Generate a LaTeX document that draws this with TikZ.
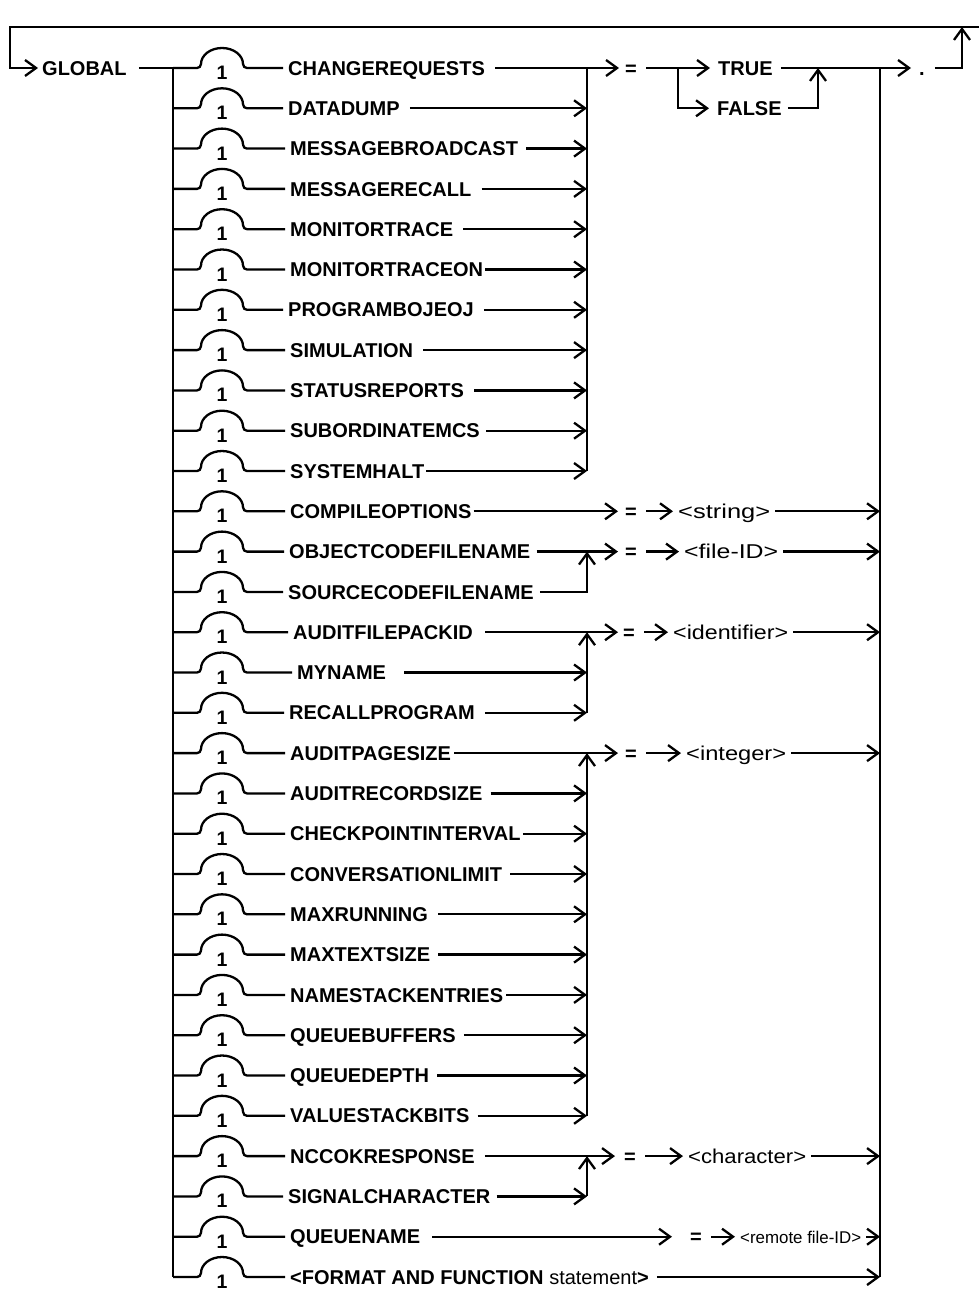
\documentclass[tikz,border=0pt]{standalone}
\usepackage{fontspec}
\setmainfont{Liberation Sans}
\usetikzlibrary{arrows.meta}
\begin{document}
\begin{tikzpicture}[x=1pt,y=-1pt,
  ln/.style={line width=2.3pt,line join=miter},
  arr/.style={ln,-{Straight Barb[length=11pt,width=16pt,line width=2.3pt]}},
  lbl/.style={inner sep=0pt,anchor=west,text height=14.3pt,text depth=0pt,font=\fontsize{20}{24}\selectfont\bfseries},
  eqs/.style={lbl,anchor=center},
  digit/.style={inner sep=0pt,text height=14pt,text depth=0pt,font=\fontsize{19.5}{22}\selectfont\bfseries}]
\useasboundingbox (0,0) rectangle (979,1292);
% ---- rows: label, "1" arch, junction coordinates
\foreach \i/\yy/\lab/\sx/\g in {
 1/68/CHANGEREQUESTS/288/10,
 2/108.3/DATADUMP/288/10,
 3/148.6/MESSAGEBROADCAST/290/8,
 4/188.9/MESSAGERECALL/290/10,
 5/229.2/MONITORTRACE/290/10,
 6/269.5/MONITORTRACEON/290/2,
 7/309.8/PROGRAMBOJEOJ/288/10,
 8/350.1/SIMULATION/290/10,
 9/390.4/STATUSREPORTS/290/10,
 10/430.7/SUBORDINATEMCS/290/6,
 11/471/SYSTEMHALT/290/2,
 12/511.3/COMPILEOPTIONS/290/2,
 13/551.6/OBJECTCODEFILENAME/289/6,
 14/591.9/SOURCECODEFILENAME/288/6,
 15/632.2/AUDITFILEPACKID/293/12,
 16/672.5/MYNAME/297/18,
 17/712.8/RECALLPROGRAM/289/10,
 18/753.1/AUDITPAGESIZE/290/3,
 19/793.4/AUDITRECORDSIZE/290/8,
 20/833.7/CHECKPOINTINTERVAL/290/2,
 21/874/CONVERSATIONLIMIT/290/8,
 22/914.3/MAXRUNNING/290/10,
 23/954.6/MAXTEXTSIZE/290/8,
 24/994.9/NAMESTACKENTRIES/290/3,
 25/1035.2/QUEUEBUFFERS/290/8,
 26/1075.5/QUEUEDEPTH/290/8,
 27/1115.8/VALUESTACKBITS/290/8,
 28/1156.1/NCCOKRESPONSE/290/10,
 29/1196.4/SIGNALCHARACTER/288/6,
 30/1236.7/QUEUENAME/290/12,
 31/1277/{<FORMAT AND FUNCTION {\mdseries statement}>}/290/8}
{
  \node[lbl] (r\i) at (\sx,\yy) {\lab};
  \node[digit] (n\i) at (222,\yy+4.5) {1};
  \coordinate (j\i) at (173,\yy);
  \coordinate (v\i) at (587,\yy);
  \coordinate (e\i) at (880,\yy);
  \coordinate (t\i) at ([xshift=\g pt]r\i.east);
  \draw[ln] (j\i) -- (197,\yy) .. controls (199.5,\yy) and (200.5,\yy-1.5) .. (201,\yy-4)
     arc[start angle=180,end angle=360,x radius=21,y radius=16]
     .. controls (243.5,\yy-1.5) and (244.5,\yy) .. (247,\yy) -- ([xshift=-5pt]r\i.west);
}
% ---- entry and loop back
\node[lbl] (glob) at (42,68) {GLOBAL};
\coordinate (tl) at (10,27);
\coordinate (tr) at (979,27);
\draw[arr] (tr) -- (tl) |- ([xshift=-4pt]glob.west);
\draw[ln] ([xshift=12pt]glob.east) -- (j1);
\draw[ln] (j1) -- (j31);
\draw[ln] (e1) -- (e31);
% ---- group 1 (rows 1-11)
\foreach \i in {2,...,11} \draw[arr] (t\i) -- (v\i);
\draw[ln] (v1) -- (v11);
\coordinate (k1) at (619,68);
\draw[arr] (t1) -- (k1);
\node[eqs] (eq1) at (631,68) {=};
\node[lbl] (tru) at (718,68) {TRUE};
\node[lbl] (fls) at (717,108.3) {FALSE};
\coordinate (b1) at (678,68);
\draw[arr] ([xshift=9pt]eq1.east) -- ([xshift=-8pt]tru.west);
\draw[arr] (b1) |- ([xshift=-8pt]fls.west);
\node[lbl] (dot) at (919,68) {.};
\draw[arr] ([xshift=8pt]tru.east) -- ([xshift=-8pt]dot.west);
\coordinate (u1) at (818,68);
\draw[arr] ([xshift=6pt]fls.east) -| (u1);
\coordinate (u0) at (962,27);
\draw[arr] ([xshift=10pt]dot.east) -| (u0);
% ---- joins of alternatives
\draw[arr] (t14) -| (v13);
\draw[arr] (t16) -- (v16);
\draw[arr] (t17) -- (v17);
\draw[arr] (v17) -- (v15);
\foreach \i in {19,...,27} \draw[arr] (t\i) -- (v\i);
\draw[arr] (v27) -- (v18);
\draw[arr] (t29) -- (v29);
\draw[arr] (v29) -- (v28);
% ---- "= <value>" groups
\foreach \i/\yy/\ax/\ex/\sx/\w/\fs/\txt in {
 12/511.3/618/631/678/92/20/{<string>},
 13/551.6/618/631/684/94/20/{<file-ID>},
 15/632.2/618/629/673/115/20/{<identifier>},
 18/753.1/618/631/686/100/20/{<integer>},
 28/1156.1/615/630/688/118/20/{<character>},
 30/1236.7/672/696/740/121/17/{<remote file-ID>}}
{
  \coordinate (k\i) at (\ax,\yy);
  \draw[arr] (t\i) -- (k\i);
  \node[eqs] (eq\i) at (\ex,\yy) {=};
  \node[lbl] (val\i) at (\sx,\yy) {\resizebox{\w pt}{\height}{\fontsize{\fs}{24}\selectfont\mdseries\txt}};
  \draw[arr] ([xshift=9pt]eq\i.east) -- ([xshift=-5pt]val\i.west);
  \draw[arr] ([xshift=5pt]val\i.east) -- (e\i);
}
\draw[arr] (t31) -- (e31);
\end{tikzpicture}
\end{document}
